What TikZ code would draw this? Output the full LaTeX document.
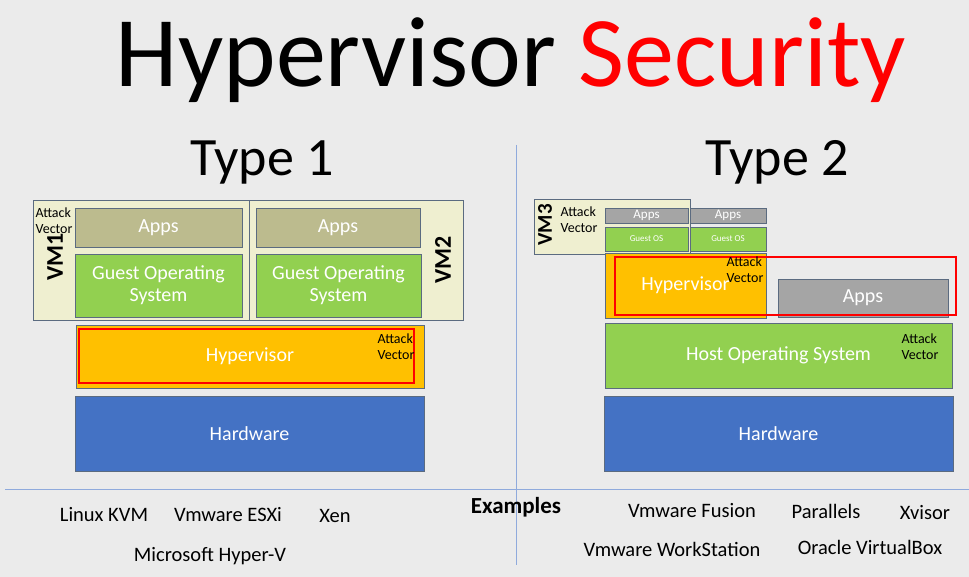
\documentclass[tikz,border=0pt]{standalone}
\usepackage{fontspec}
\setmainfont{Carlito}
\usetikzlibrary{positioning}

\definecolor{bgcol}{HTML}{EBEBEB}
\definecolor{edgecol}{HTML}{5B6B80}
\definecolor{vmcol}{HTML}{EFEFD0}
\definecolor{oldapps}{HTML}{BCBB8E}
\definecolor{osgreen}{HTML}{92D050}
\definecolor{hypgold}{HTML}{FFC000}
\definecolor{hwblue}{HTML}{4472C4}
\definecolor{appgray}{HTML}{A5A5A5}
\definecolor{sepline}{HTML}{8FAADC}
\definecolor{titlered}{HTML}{FF0000}

\begin{document}
\begin{tikzpicture}[x=1pt, y=-1pt,
  layer/.style={draw=edgecol, line width=0.8pt, inner sep=0pt, text=white,
    font=\fontsize{20}{22}\selectfont, align=center},
  vmbox/.style={layer, fill=vmcol},
  appsbox/.style={layer, fill=oldapps},
  osbox/.style={layer, fill=osgreen},
  hypbox/.style={layer, fill=hypgold},
  hwbox/.style={layer, fill=hwblue},
  grayapps/.style={layer, fill=appgray},
  attackzone/.style={draw=titlered, line width=1.4pt, inner sep=0pt},
  attack/.style={font=\fontsize{14}{16}\selectfont, align=left, inner sep=0pt},
  vmname/.style={font=\bfseries\fontsize{24}{26}\selectfont, rotate=90, inner sep=0pt},
  example/.style={font=\fontsize{20.5}{22}\selectfont, inner sep=0pt}
]
% background and frame
\fill[bgcol] (0,0) rectangle (969,577);
\useasboundingbox (0,0) rectangle (969,577);

% titles
\node[font=\fontsize{100}{110}\selectfont, inner sep=0pt] (title) at (511,60)
  {Hypervisor \textcolor{titlered}{Security}};
\node[font=\fontsize{54}{60}\selectfont, inner sep=0pt] (type1) at (262,162) {Type 1};
\node[font=\fontsize{54}{60}\selectfont, inner sep=0pt] (type2) at (777,162) {Type 2};

% separators
\coordinate (vtop) at (516,145);
\coordinate (vbot) at (516,565);
\coordinate (hleft) at (5,489);
\coordinate (hright) at (969,489);
\draw[sepline, line width=0.8pt] (vtop) -- (vbot);
\draw[sepline, line width=0.8pt] (hleft) -- (hright);

% ---- Type 1 ----
\node[vmbox, minimum width=216, minimum height=120] (vm1) at (141,260) {};
\node[vmbox, minimum width=214, minimum height=120] (vm2) at (356,260) {};
\node[appsbox, minimum width=167, minimum height=39] (apps1) at (158.5,227.5) {Apps};
\node[osbox, minimum width=167, minimum height=63] (gos1) at (158.5,285.5) {Guest Operating\\System};
\node[appsbox, minimum width=164, minimum height=39] (apps2) at (338,227.5) {Apps};
\node[osbox, minimum width=165, minimum height=63] (gos2) at (338.5,285.5) {Guest Operating\\System};
\node[attack] (atk1) at (54,221) {Attack\\Vector};
\node[vmname] (vm1name) at (55,257) {VM1};
\node[vmname] (vm2name) at (443,260) {VM2};

\node[hypbox, minimum width=348, minimum height=63] (hyp1) at (250,356.5) {Hypervisor};
\node[attackzone, minimum width=335, minimum height=54] (zone1) at (246.5,356) {};
\node[attack] (atk2) at (396,347) {Attack\\Vector};
\node[hwbox, minimum width=349, minimum height=75] (hw1) at (249.5,433.5) {Hardware};

% ---- Type 2 ----
\node[vmbox, minimum width=156, minimum height=55] (vm3) at (612,226.5) {};
\node[vmname, font=\bfseries\fontsize{21}{23}\selectfont] (vm3name) at (545,225) {VM3};
\node[attack] (atk3) at (579,220) {Attack\\Vector};
\node[grayapps, minimum width=83, minimum height=15, font=\fontsize{13}{14}\selectfont] (appsa) at (646.5,215.5) {Apps};
\node[grayapps, minimum width=76, minimum height=15, font=\fontsize{13}{14}\selectfont] (appsb) at (728,215.5) {Apps};
\node[osbox, minimum width=83, minimum height=24, font=\fontsize{9}{10}\selectfont] (gosa) at (646.5,239) {Guest OS};
\node[osbox, minimum width=76, minimum height=24, font=\fontsize{9}{10}\selectfont] (gosb) at (728,239) {Guest OS};

\node[hypbox, minimum width=161, minimum height=65] (hyp2) at (685.5,285.5) {Hypervisor};
\node[grayapps, minimum width=170, minimum height=38] (apps3) at (863,298) {Apps};
\node[attackzone, minimum width=341, minimum height=58] (zone2) at (785.5,286) {};
\node[attack] (atk4) at (745,270) {Attack\\Vector};

\node[osbox, minimum width=347, minimum height=65] (host) at (778.5,355.5) {Host Operating System};
\node[attack] (atk5) at (920,347) {Attack\\Vector};
\node[hwbox, minimum width=349, minimum height=75] (hw2) at (778.5,433.5) {Hardware};

% ---- examples ----
\node[font=\bfseries\fontsize{23}{25}\selectfont, inner sep=0pt] (examples) at (516,507) {Examples};
\node[example] (kvm) at (104,515) {Linux KVM};
\node[example] (esxi) at (228,515) {Vmware ESXi};
\node[example] (xen) at (335,516) {Xen};
\node[example] (hyperv) at (210,556) {Microsoft Hyper-V};
\node[example] (fusion) at (692,511) {Vmware Fusion};
\node[example] (parallels) at (826,511) {Parallels};
\node[example] (xvisor) at (925,513) {Xvisor};
\node[example] (workstation) at (672,549) {Vmware WorkStation};
\node[example] (vbox) at (870,547) {Oracle VirtualBox};
\end{tikzpicture}
\end{document}
